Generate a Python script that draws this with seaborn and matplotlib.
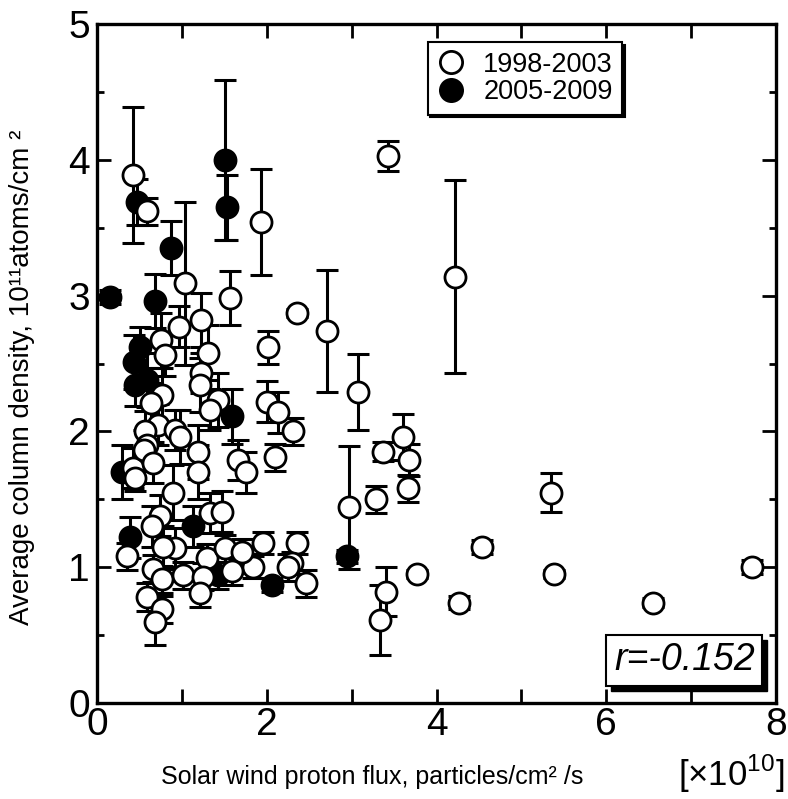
import matplotlib
matplotlib.use("Agg")
import matplotlib.pyplot as plt
from matplotlib.patches import Rectangle
from matplotlib.lines import Line2D
from matplotlib.ticker import MultipleLocator, FixedLocator, FuncFormatter
import seaborn as sns
import pandas as pd

# ---------------- data ----------------
open_x = [0.42, 0.59, 1.04, 1.57, 1.93, 2.36, 2.71, 3.43, 4.22, 2.02, 3.07, 2.00, 2.13,
          2.31, 2.10, 3.60, 3.37, 3.68, 3.66, 3.29, 2.97, 1.96, 2.36, 2.30, 2.46, 1.84,
          3.41, 3.34, 3.77, 5.35, 4.54, 5.38, 4.27, 6.55, 7.72,
          0.97, 1.23, 0.75, 0.80, 1.31, 1.23, 1.21, 0.77, 0.64, 1.43, 1.33, 0.72, 0.92,
          0.57, 0.59, 0.98, 1.19, 1.66, 0.42, 0.55, 0.66, 0.45, 1.19, 1.75, 0.90, 1.33,
          1.47, 0.74, 0.65, 0.35, 0.92, 0.78, 1.30, 1.51, 1.71, 0.66, 0.77, 1.01, 1.25,
          1.59, 1.21, 2.25, 0.59, 0.77, 0.68]
open_y = [3.89, 3.62, 3.09, 2.98, 3.54, 2.87, 2.74, 4.03, 3.14, 2.62, 2.29, 2.22, 2.14,
          2.00, 1.81, 1.96, 1.85, 1.79, 1.58, 1.50, 1.44, 1.18, 1.18, 1.03, 0.88, 1.00,
          0.82, 0.61, 0.95, 1.55, 1.15, 0.95, 0.74, 0.74, 1.00,
          2.77, 2.82, 2.67, 2.56, 2.58, 2.43, 2.34, 2.27, 2.21, 2.23, 2.16, 2.05, 2.01,
          2.00, 1.90, 1.96, 1.85, 1.79, 1.73, 1.86, 1.77, 1.66, 1.70, 1.70, 1.55, 1.40,
          1.41, 1.38, 1.30, 1.08, 1.14, 1.15, 1.07, 1.14, 1.11, 0.99, 0.91, 0.94, 0.93,
          0.97, 0.81, 1.00, 0.78, 0.69, 0.60]
open_err = [0.50, 0.10, 0.60, 0.20, 0.39, 0.03, 0.45, 0.11, 0.71, 0.12, 0.28, 0.15, 0.15,
            0.10, 0.10, 0.17, 0.07, 0.12, 0.10, 0.10, 0.45, 0.08, 0.08, 0.08, 0.10, 0.08,
            0.18, 0.26, 0.03, 0.14, 0.05, 0.03, 0.05, 0.03, 0.05,
            0.15, 0.20, 0.20, 0.15, 0.20, 0.15, 0.20, 0.20, 0.15, 0.20, 0.15, 0.15, 0.15,
            0.15, 0.15, 0.20, 0.20, 0.15, 0.15, 0.15, 0.15, 0.10, 0.20, 0.15, 0.20, 0.15,
            0.15, 0.15, 0.15, 0.10, 0.15, 0.15, 0.10, 0.10, 0.10, 0.10, 0.10, 0.10, 0.10,
            0.10, 0.10, 0.10, 0.10, 0.10, 0.17]

filled_x = [0.15, 0.68, 0.47, 0.87, 1.51, 1.53, 0.51, 0.44, 0.45, 0.59, 1.59, 0.29,
            1.13, 0.39, 1.43, 2.06, 2.95]
filled_y = [2.99, 2.96, 3.69, 3.35, 4.00, 3.65, 2.62, 2.51, 2.34, 2.38, 2.11, 1.70,
            1.30, 1.22, 0.94, 0.87, 1.08]
filled_err = [0.05, 0.20, 0.17, 0.20, 0.59, 0.24, 0.15, 0.20, 0.15, 0.20, 0.20, 0.20,
              0.15, 0.15, 0.10, 0.05, 0.05]

series_names = ["1998-2003", "2005-2009"]
x_ticks = [0, 1, 2, 3, 4, 5, 6, 7, 8]
y_ticks = [0, 1, 2, 3, 4, 5]
r_text = "r=-0.152"

df_open = pd.DataFrame({"flux": open_x, "density": open_y, "err": open_err, "period": series_names[0]})
df_filled = pd.DataFrame({"flux": filled_x, "density": filled_y, "err": filled_err, "period": series_names[1]})

# ---------------- style ----------------
sns.set_style("ticks")
plt.rcParams["font.family"] = ["Liberation Sans", "DejaVu Sans"]
plt.rcParams["mathtext.fontset"] = "custom"
plt.rcParams["mathtext.rm"] = "Liberation Sans"
for k in ["text.color", "axes.labelcolor", "xtick.color", "ytick.color", "axes.edgecolor"]:
    plt.rcParams[k] = "black"

fig = plt.figure(figsize=(7.88, 7.99), dpi=100)
ax = fig.add_axes([97 / 788, 1 - 703 / 799, (776 - 97) / 788, (703 - 24) / 799])

ekw = dict(fmt="none", ecolor="black", elinewidth=2.2, capsize=8, capthick=2.2, zorder=2)
ax.errorbar(df_filled["flux"], df_filled["density"], yerr=df_filled["err"], **ekw)
ax.errorbar(df_open["flux"], df_open["density"], yerr=df_open["err"], **ekw)

sns.scatterplot(data=df_filled, x="flux", y="density", ax=ax, s=230, color="black",
                edgecolor="black", linewidth=2.0, zorder=3, legend=False)
sns.scatterplot(data=df_open, x="flux", y="density", ax=ax, s=230, color="white",
                edgecolor="black", linewidth=2.0, zorder=4, legend=False)

ax.set_xlim(0, 8)
ax.set_ylim(0, 5)
ax.xaxis.set_major_locator(FixedLocator(x_ticks))
ax.xaxis.set_major_formatter(FuncFormatter(lambda v, p: f"{int(round(v))}" if int(round(v)) % 2 == 0 else ""))
ax.yaxis.set_major_locator(FixedLocator(y_ticks))
ax.yaxis.set_minor_locator(MultipleLocator(0.5))
ax.tick_params(which="both", direction="in", top=True, right=True, width=2.0,
               labelsize=28)
ax.tick_params(axis="x", pad=3)
ax.tick_params(axis="y", pad=5)
ax.tick_params(which="major", length=10)
ax.tick_params(which="minor", length=5)
for s in ax.spines.values():
    s.set_linewidth(2.4)

ax.set_xlabel("")
ax.set_ylabel("Average column density, 10\u00b9\u00b9atoms/cm \u00b2", fontsize=20)
ax.yaxis.set_label_coords(-0.092, 0.479)

fig.text(372 / 788, 1 - 777 / 799, "Solar wind proton flux, particles/cm\u00b2 /s",
         fontsize=18, ha="center", va="center")
fig.text(731 / 788, 1 - 774 / 799, r"[$\times$10$^{10}$]", fontsize=25, ha="center", va="center")

# legend
handles = [
    Line2D([], [], ls="none", marker="o", markersize=16, markerfacecolor="white",
           markeredgecolor="black", markeredgewidth=2.0),
    Line2D([], [], ls="none", marker="o", markersize=16, markerfacecolor="black",
           markeredgecolor="black", markeredgewidth=2.0),
]
leg = ax.legend(handles, series_names, loc="upper left", bbox_to_anchor=(0.487, 0.973),
                borderaxespad=0, fontsize=19.5, frameon=True, fancybox=False, framealpha=1,
                edgecolor="black", handletextpad=0.7, borderpad=0.35, labelspacing=0.05,
                handlelength=1.0,
                shadow={"facecolor": "black", "edgecolor": "black", "alpha": 1})
leg.get_frame().set_linewidth(1.5)
leg.set_zorder(10)

# r-value box with shadow
rt = ax.text(0.865, 0.063, r_text, transform=ax.transAxes, fontsize=27, style="italic",
             ha="center", va="center", color="black", zorder=10,
             bbox=dict(boxstyle="square,pad=0.2", fc="white", ec="black", lw=1.5))
fig.canvas.draw()
bb = rt.get_bbox_patch().get_window_extent()
shadow = Rectangle((bb.x0 + 5, bb.y0 - 5), bb.width, bb.height, transform=None,
                   facecolor="black", edgecolor="black", zorder=9)
ax.add_artist(shadow)

fig.savefig("out.png", dpi=100)
